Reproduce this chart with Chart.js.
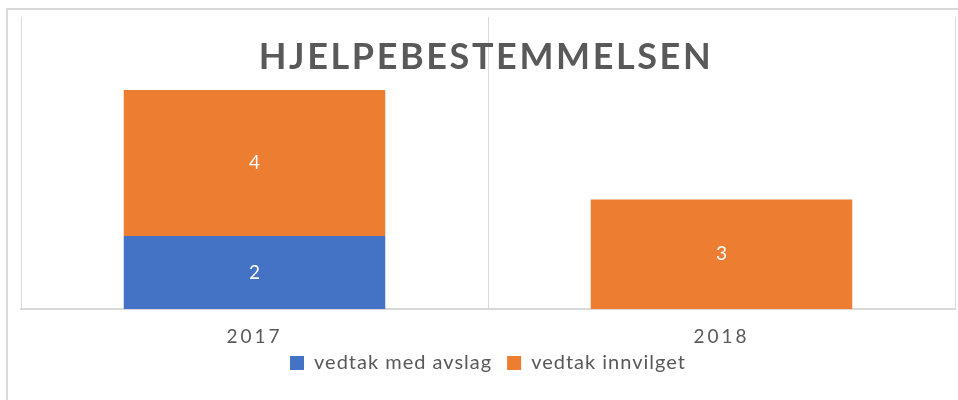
<!DOCTYPE html>
<html>
<head>
<meta charset="utf-8">
<script src="https://cdn.jsdelivr.net/npm/chart.js@4.4.1/dist/chart.umd.min.js"></script>
<style>
  body { margin: 0; background: #fff; }
  #wrap { position: relative; width: 958px; height: 400px; overflow: hidden; }
  #frame { position: absolute; left: 6px; top: 8px; width: 1000px; height: 500px; border: 2px solid #d9d9d9; }
  #myChart { position: absolute; left: 0; top: 0; }
</style>
</head>
<body>
<div id="wrap">
  <div id="frame"></div>
  <canvas id="myChart" width="958" height="400"></canvas>
</div>
<script>
const YEARS = ["2017", "2018"];
const AVSLAG = [2, 0];
const INNVILGET = [4, 3];
const TITLE = "HJELPEBESTEMMELSEN";

const GREY = "#595959";
const BLUE = "#4472C4";
const ORANGE = "#ED7D31";
const LINE = "#d9d9d9";

let ctx = document.querySelector("#myChart");

// spaced-out lettering like the office theme: 1px everywhere, 3px on the year labels
const spacing = {
  id: "spacing",
  beforeUpdate(chart) {
    chart.ctx.letterSpacing = "1px";
  },
  beforeDraw(chart) {
    const x = chart.scales.x;
    if (x && !x._spaced) {
      const drawLabels = x.drawLabels;
      x.drawLabels = function (area) {
        // the year labels hang a little below the (short) axis box, so widen the clip
        const bottom = this.bottom;
        this.bottom = this.chart.height;
        this.ctx.letterSpacing = "3px";
        drawLabels.call(this, area);
        this.ctx.letterSpacing = "1px";
        this.bottom = bottom;
      };
      x._spaced = true;
    }
  },
};

// value written in the middle of each stacked segment
const barLabels = {
  id: "barLabels",
  afterDatasetsDraw(chart) {
    const c = chart.ctx;
    c.save();
    c.fillStyle = "#fff";
    c.font = "19px Lato";
    c.letterSpacing = "0px";
    c.textAlign = "center";
    c.textBaseline = "middle";
    chart.data.datasets.forEach((ds, i) => {
      chart.getDatasetMeta(i).data.forEach((bar, j) => {
        const v = ds.data[j];
        if (!v) return;
        const { x, y, base } = bar.getProps(["x", "y", "base"], true);
        c.fillText(String(v), x, (y + base) / 2);
      });
    });
    c.restore();
  },
};

// heading sits on top of the plot area
const bigTitle = {
  id: "bigTitle",
  afterDraw(chart) {
    const c = chart.ctx;
    const a = chart.chartArea;
    c.save();
    c.font = "bold 36px Lato";
    c.fillStyle = GREY;
    c.letterSpacing = "2.6px";
    c.textAlign = "center";
    c.textBaseline = "alphabetic";
    c.fillText(TITLE, (a.left + a.right) / 2 - 2, a.top + 52);
    c.restore();
  },
};

new Chart(ctx, {
  type: "bar",
  data: {
    labels: YEARS,
    datasets: [
      {
        label: "vedtak med avslag",
        data: AVSLAG,
        backgroundColor: BLUE,
        barPercentage: 0.56,
        categoryPercentage: 1,
      },
      {
        label: "vedtak innvilget",
        data: INNVILGET,
        backgroundColor: ORANGE,
        barPercentage: 0.56,
        categoryPercentage: 1,
      },
    ],
  },
  options: {
    responsive: false,
    animation: false,
    layout: {
      padding: { top: 17, left: 21, right: 3, bottom: 17 },
    },
    plugins: {
      title: { display: false },
      tooltip: { enabled: false },
      legend: {
        position: "bottom",
        labels: {
          color: GREY,
          font: { family: "Lato", size: 20 },
          boxWidth: 14,
          boxHeight: 14,
          padding: 15,
        },
      },
    },
    scales: {
      x: {
        stacked: true,
        // invisible tick marks push the year labels down without padding the axis twice
        grid: {
          color: LINE,
          lineWidth: 1,
          drawTicks: true,
          tickLength: 27,
          tickColor: "rgba(0,0,0,0)",
        },
        border: { color: LINE, width: 2 },
        ticks: {
          color: GREY,
          font: { family: "Lato", size: 19, lineHeight: 0.1 },
          padding: 0,
        },
      },
      y: {
        stacked: true,
        display: false,
        min: 0,
        max: 8,
      },
    },
  },
  plugins: [spacing, barLabels, bigTitle],
});
</script>
</body>
</html>
